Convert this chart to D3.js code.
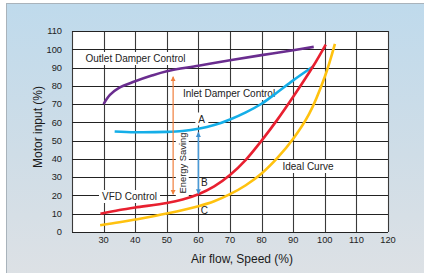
<!DOCTYPE html>
<html>
<head>
<meta charset="utf-8">
<script src="https://cdn.jsdelivr.net/npm/d3@7"></script>
<style>
  html, body { margin: 0; padding: 0; background: #fff; }
  svg { display: block; font-family: "Liberation Sans", Arial, sans-serif; }
</style>
</head>
<body>
<div class="canvas"></div>
<script>
// axis ticks
const xTicks = [30, 40, 50, 60, 70, 80, 90, 100, 110, 120];
const yTicks = [0, 10, 20, 30, 40, 50, 60, 70, 80, 90, 100, 110];

// curves: [air flow %, motor input %]
const outletDamper = [[30, 70], [32, 75], [35, 79], [40, 82.5], [45, 85.5], [50, 88], [60, 91], [70, 94], [80, 96.8], [90, 99.5], [96.5, 101.3]];
const inletDamper = [[33.5, 55], [40, 54.6], [50, 54.8], [55, 55.3], [60, 56.5], [65, 58.5], [70, 61.6], [75, 65.5], [80, 70.2], [85, 76.5], [90, 83], [96.4, 90.7]];
const vfdControl = [[29, 10], [35, 12], [40, 13.4], [50, 15.9], [55, 17.8], [60, 20.7], [65, 25], [70, 31.2], [75, 39.5], [80, 50], [85, 61.5], [90, 74], [96.4, 91], [100.3, 102.6]];
const idealCurve = [[28.9, 3.7], [35, 5.3], [40, 6.8], [50, 10.1], [60, 14.1], [65, 16.8], [70, 20.7], [75, 25.6], [80, 32], [85, 40.5], [90, 51], [95, 64.5], [100, 85], [103.2, 103]];

// energy saving arrows: [x, from, to]
const energyArrow = [52, 20.6, 85];
const savingArrow = [60, 21, 54.5];

const W = 424, H = 273;
const svg = d3.select('.canvas').append('svg')
  .attr('width', W)
  .attr('height', H);

// panel background
const defs = svg.append('defs');
const grad = defs.append('linearGradient')
  .attr('id', 'bg')
  .attr('x1', 0).attr('y1', 0).attr('x2', 0).attr('y2', 1);
grad.append('stop').attr('offset', '0%').attr('stop-color', '#bfdaec');
grad.append('stop').attr('offset', '55%').attr('stop-color', '#cfdde7');
grad.append('stop').attr('offset', '100%').attr('stop-color', '#dde1e5');

svg.append('rect')
  .attr('x', 6.5).attr('y', 3.5)
  .attr('width', W).attr('height', H)
  .attr('fill', 'url(#bg)')
  .attr('stroke', '#a9b3bb')
  .attr('stroke-width', 1);

const x = d3.scaleLinear().domain([20, 120]).range([72, 388]);
const y = d3.scaleLinear().domain([0, 110]).range([232, 31]);

const plot = svg.append('g');

plot.append('rect')
  .attr('x', x(20)).attr('y', y(110))
  .attr('width', x(120) - x(20)).attr('height', y(0) - y(110))
  .attr('fill', '#fff');

// grid
plot.selectAll('line.v')
  .data(xTicks.concat([20]))
  .enter().append('line')
  .attr('class', 'v')
  .attr('x1', d => Math.round(x(d)) + 0.5).attr('x2', d => Math.round(x(d)) + 0.5)
  .attr('y1', y(110)).attr('y2', y(0))
  .attr('stroke', '#3a3a3a')
  .attr('stroke-width', 1.1);

plot.selectAll('line.h')
  .data(yTicks)
  .enter().append('line')
  .attr('class', 'h')
  .attr('x1', x(20)).attr('x2', x(120))
  .attr('y1', d => Math.round(y(d)) + 0.5).attr('y2', d => Math.round(y(d)) + 0.5)
  .attr('stroke', '#222')
  .attr('stroke-width', 1.1);

// tick labels
svg.selectAll('text.yt')
  .data(yTicks)
  .enter().append('text')
  .attr('x', 62)
  .attr('y', d => y(d))
  .attr('dy', '0.35em')
  .attr('text-anchor', 'end')
  .attr('font-size', 9.3)
  .attr('fill', '#222')
  .text(d => d);

svg.selectAll('text.xt')
  .data(xTicks)
  .enter().append('text')
  .attr('x', d => x(d))
  .attr('y', 242.5)
  .attr('text-anchor', 'middle')
  .attr('font-size', 9.3)
  .attr('fill', '#222')
  .text(d => d);

// axis titles
svg.append('text')
  .attr('x', 242).attr('y', 262.5)
  .attr('text-anchor', 'middle')
  .attr('font-size', 12)
  .attr('fill', '#1a1a1a')
  .text('Air flow, Speed (%)');

svg.append('text')
  .attr('transform', 'translate(41.5,127) rotate(-90)')
  .attr('text-anchor', 'middle')
  .attr('font-size', 12)
  .attr('fill', '#1a1a1a')
  .text('Motor input (%)');

// labels with white boxes that cover the grid
function label(txt, cx, cy, size, rotate) {
  const g = plot.append('g')
    .attr('transform', `translate(${cx},${cy})` + (rotate ? ' rotate(-90)' : ''));
  const rect = g.append('rect').attr('fill', '#fff');
  const t = g.append('text')
    .attr('text-anchor', 'middle')
    .attr('dy', '0.35em')
    .attr('font-size', size)
    .attr('fill', '#222')
    .text(txt);
  const b = t.node().getBBox();
  rect.attr('x', b.x - 3).attr('y', b.y - 1)
    .attr('width', b.width + 6).attr('height', b.height + 2);
}

label('Outlet Damper Control', 135.5, 58.5, 10);
label('Inlet Damper Control', 229, 93.5, 10);
label('VFD Control', 129.5, 196.5, 10);
label('Ideal Curve', 308, 166.5, 10);
label('A', 201.7, 119, 10);
label('Energy Saving', 182.5, 163, 9.4, true);

// curves
const line = d3.line()
  .x(d => x(d[0]))
  .y(d => y(d[1]))
  .curve(d3.curveCatmullRom.alpha(0.5));

const curves = [
  [outletDamper, '#6a2d8f'],
  [inletDamper, '#14aee8'],
  [idealCurve, '#ffc20f'],
  [vfdControl, '#e82030']
];

plot.selectAll('path.curve')
  .data(curves)
  .enter().append('path')
  .attr('class', 'curve')
  .attr('d', d => line(d[0]))
  .attr('fill', 'none')
  .attr('stroke', d => d[1])
  .attr('stroke-width', 2.6)
  .attr('stroke-linecap', 'butt');

// arrow markers
function marker(id, color) {
  defs.append('marker')
    .attr('id', id)
    .attr('viewBox', '0 0 10 10')
    .attr('refX', 9).attr('refY', 5)
    .attr('markerWidth', 5).attr('markerHeight', 6)
    .attr('markerUnits', 'userSpaceOnUse')
    .attr('orient', 'auto-start-reverse')
    .append('path')
    .attr('d', 'M0,0 L10,5 L0,10 Z')
    .attr('fill', color);
}
marker('arrO', '#f07f3c');
marker('arrB', '#3d8fd0');

plot.append('line')
  .attr('x1', x(energyArrow[0])).attr('x2', x(energyArrow[0]))
  .attr('y1', y(energyArrow[1])).attr('y2', y(energyArrow[2]))
  .attr('stroke', '#f07f3c')
  .attr('stroke-width', 1.2)
  .attr('marker-start', 'url(#arrO)')
  .attr('marker-end', 'url(#arrO)');

plot.append('line')
  .attr('x1', x(savingArrow[0])).attr('x2', x(savingArrow[0]))
  .attr('y1', y(savingArrow[1])).attr('y2', y(savingArrow[2]))
  .attr('stroke', '#4a9ad6')
  .attr('stroke-width', 1.6)
  .attr('marker-start', 'url(#arrB)')
  .attr('marker-end', 'url(#arrB)');

// point letters B and C (no box)
plot.selectAll('text.pt')
  .data([['B', 204.3, 182.7], ['C', 204.3, 210]])
  .enter().append('text')
  .attr('x', d => d[1]).attr('y', d => d[2])
  .attr('dy', '0.35em')
  .attr('text-anchor', 'middle')
  .attr('font-size', 10)
  .attr('fill', '#222')
  .text(d => d[0]);
</script>
</body>
</html>
